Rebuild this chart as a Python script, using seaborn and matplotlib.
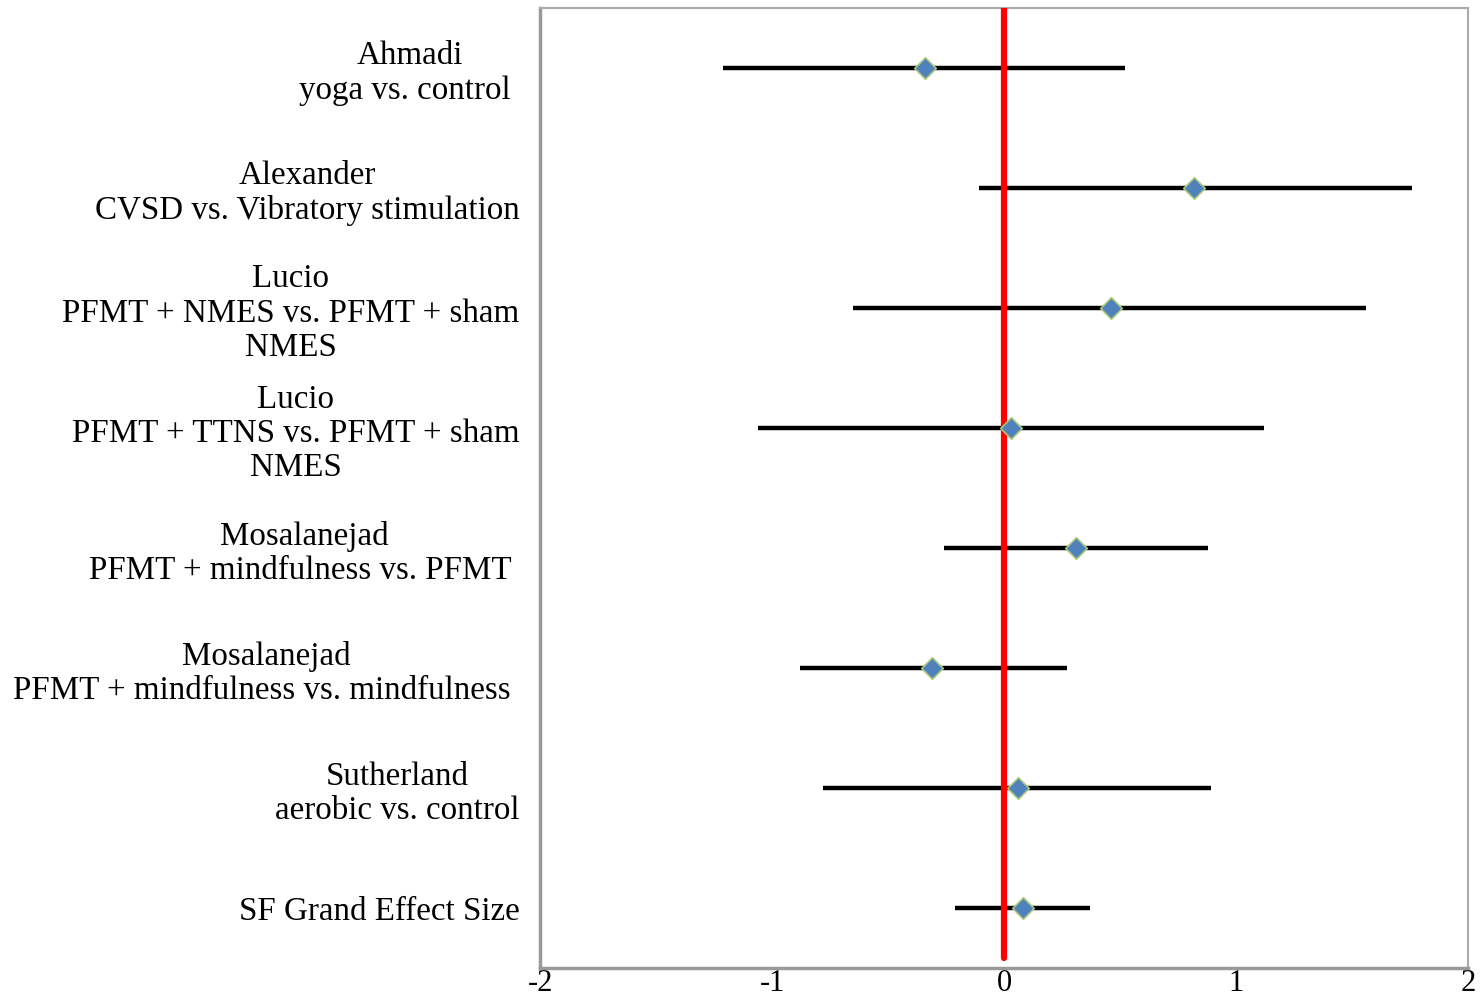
import matplotlib
matplotlib.use("Agg")
import matplotlib.pyplot as plt
import seaborn as sns
import numpy as np
import pandas as pd

labels = [
    "Ahmadi\nyoga vs. control ",
    "Alexander\nCVSD vs. Vibratory stimulation",
    "Lucio\nPFMT + NMES vs. PFMT + sham\nNMES",
    "Lucio\nPFMT + TTNS vs. PFMT + sham\nNMES",
    "Mosalanejad\nPFMT + mindfulness vs. PFMT ",
    "Mosalanejad\nPFMT + mindfulness vs. mindfulness ",
    "Sutherland\naerobic vs. control",
    "SF Grand Effect Size",
]
effect = [-0.34, 0.82, 0.46, 0.03, 0.31, -0.31, 0.06, 0.08]
ci_low = [-1.21, -0.11, -0.65, -1.06, -0.26, -0.88, -0.78, -0.21]
ci_high = [0.52, 1.76, 1.56, 1.12, 0.88, 0.27, 0.89, 0.37]
xticks = [-2, -1, 0, 1, 2]

df = pd.DataFrame({"label": labels, "effect": effect, "lo": ci_low, "hi": ci_high})
df["pos"] = np.arange(len(df))

sns.set_style("white")
plt.rcParams["font.family"] = ["Liberation Serif", "DejaVu Serif"]
plt.rcParams["text.color"] = "black"
plt.rcParams["xtick.color"] = "black"
plt.rcParams["ytick.color"] = "black"

fig = plt.figure(figsize=(14.8, 9.98), dpi=100)
ax = fig.add_axes([0.365, 0.030, 0.627, 0.962])

ax.hlines(df["pos"], df["lo"], df["hi"], color="black", linewidth=3.2, zorder=2)
ax.axvline(0, ymin=0.01, ymax=1.0, color="#ff0000", linewidth=4.5, zorder=3)
sns.scatterplot(data=df, x="effect", y="pos", marker="D", s=120, color="#4f81bd",
                edgecolor="#a9c97a", linewidth=1.2, zorder=4, ax=ax, legend=False)

ax.set_xlim(-2, 2)
ax.set_ylim(len(df) - 0.5, -0.5)
ax.set_xticks(xticks)
ax.set_xticklabels([str(t) for t in xticks], fontsize=22)
ax.set_yticks(df["pos"])
ax.set_yticklabels(df["label"], fontsize=23.8)
for t in ax.get_yticklabels():
    t.set_multialignment("center")
    t.set_linespacing(1.15)
    t.set_color("black")
ax.set_yticks(np.arange(-0.5, len(df), 1.0), minor=True)
ax.tick_params(axis="y", which="major", length=0, pad=15)
ax.tick_params(axis="y", which="minor", length=12, direction="inout", color="#999999", width=1.2)
ax.tick_params(axis="x", which="major", length=14, direction="inout", color="#999999",
               labelcolor="black", width=1.2, pad=-6)
ax.set_xlabel("")
ax.set_ylabel("")

for side in ["left", "bottom"]:
    ax.spines[side].set_color("#999999")
    ax.spines[side].set_linewidth(2.5)
for side in ["top", "right"]:
    ax.spines[side].set_color("#aaaaaa")
    ax.spines[side].set_linewidth(1.5)

fig.savefig("out.png", dpi=100)
